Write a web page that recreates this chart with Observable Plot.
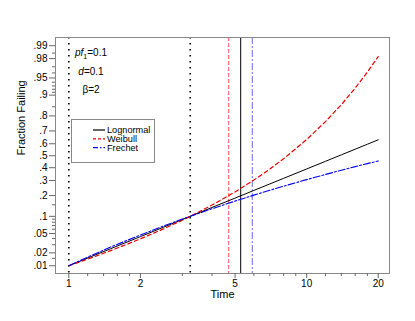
<!DOCTYPE html>
<html>
<head>
<meta charset="utf-8">
<script src="https://cdn.jsdelivr.net/npm/d3@7"></script>
<script src="https://cdn.jsdelivr.net/npm/@observablehq/plot@0.6"></script>
<style>
  body { margin: 0; background: #fff; font-family: "Liberation Sans", Arial, sans-serif; }
  #wrap { position: relative; width: 415px; height: 321px; }
  #wrap > svg { position: absolute; left: 0; top: 0; }
  .ann { position: absolute; font-size: 10px; color: #000; text-align: center; width: 60px; white-space: nowrap; }
</style>
</head>
<body>
<div id="wrap"></div>
<script>
// ---- data ----
const times = [1, 1.25, 1.5, 2, 2.5, 3, 3.24, 4, 5, 6, 7, 8, 10, 12, 14, 16, 18, 20];
const lognormalF = [0.0100, 0.0167, 0.0247, 0.0436, 0.0653, 0.0886, 0.1001, 0.137, 0.1852, 0.2316, 0.2754, 0.3163, 0.3899, 0.4532, 0.5079, 0.555, 0.596, 0.632];
const weibullF   = [0.0100, 0.0156, 0.0224, 0.0394, 0.0609, 0.0865, 0.1001, 0.1485, 0.2222, 0.3036, 0.3889, 0.4744, 0.634, 0.7648, 0.8605, 0.9237, 0.9615, 0.982];
const frechetF   = [0.0100, 0.0177, 0.0267, 0.0469, 0.0686, 0.0902, 0.1003, 0.1313, 0.1688, 0.2024, 0.2325, 0.2598, 0.3068, 0.3461, 0.3796, 0.4087, 0.4339, 0.4563];
const dottedTimes = [1, 3.24];
const quantileTimes = { Weibull: 4.70, Lognormal: 5.28, Frechet: 5.91 };
const xTicks = [1, 2, 5, 10, 20];
const xTickLabels = ["1", "2", "5", "10", "20"];
const xMinorTicks = [1.2, 1.4, 1.6, 1.8, 3, 4, 6, 7, 8, 9, 12, 14, 16, 18];
const yTickValues = [0.01, 0.02, 0.05, 0.1, 0.2, 0.3, 0.4, 0.5, 0.6, 0.7, 0.8, 0.9, 0.95, 0.98, 0.99];
const yTickLabels = [".01", ".02", ".05", ".1", ".2", ".3", ".4", ".5", ".6", ".7", ".8", ".9", ".95", ".98", ".99"];
const yMinorTicks = [0.015, 0.03, 0.04, 0.06, 0.07, 0.08, 0.09, 0.15, 0.85, 0.91, 0.92, 0.93, 0.94, 0.96, 0.97, 0.985];
const seriesNames = ["Lognormal", "Weibull", "Frechet"];
const seriesColors = ["#000000", "#ee0000", "#0000ee"];
const seriesDash = [null, "4,3", "7,2,2,2"];

// inverse standard normal CDF (probability-scale transform)
function probit(p) {
  const a=[-3.969683028665376e+01,2.209460984245205e+02,-2.759285104469687e+02,1.383577518672690e+02,-3.066479806614716e+01,2.506628277459239e+00];
  const b=[-5.447609879822406e+01,1.615858368580409e+02,-1.556989798598866e+02,6.680131188771972e+01,-1.328068155288572e+01];
  const c=[-7.784894002430293e-03,-3.223964580411365e-01,-2.400758277161838e+00,-2.549732539343734e+00,4.374664141464968e+00,2.938163982698783e+00];
  const d=[7.784695709041462e-03,3.224671290700398e-01,2.445134137142996e+00,3.754408661907416e+00];
  const pl = 0.02425, ph = 1 - pl;
  if (p < pl) { const q = Math.sqrt(-2*Math.log(p)); return (((((c[0]*q+c[1])*q+c[2])*q+c[3])*q+c[4])*q+c[5])/((((d[0]*q+d[1])*q+d[2])*q+d[3])*q+1); }
  if (p <= ph) { const q = p - 0.5, r = q*q; return (((((a[0]*r+a[1])*r+a[2])*r+a[3])*r+a[4])*r+a[5])*q/(((((b[0]*r+b[1])*r+b[2])*r+b[3])*r+b[4])*r+1); }
  const q = Math.sqrt(-2*Math.log(1-p)); return -(((((c[0]*q+c[1])*q+c[2])*q+c[3])*q+c[4])*q+c[5])/((((d[0]*q+d[1])*q+d[2])*q+d[3])*q+1);
}

const toRows = (vals) => times.map((t, i) => ({t, z: probit(vals[i])}));
const yMajorZ = yTickValues.map(probit);
const labelByZ = new Map(yMajorZ.map((z, i) => [z, yTickLabels[i]]));
const xLabelRows = xTicks.map((t, i) => ({t, label: xTickLabels[i]}));

const chart = Plot.plot({
  width: 415, height: 321,
  marginLeft: 55, marginRight: 26, marginTop: 37, marginBottom: 48,
  style: { fontFamily: "'Liberation Sans', Arial, sans-serif", fontSize: "10px", background: "transparent" },
  x: { type: "log", domain: [0.879, 22.3] },
  y: { type: "linear", domain: [-2.49, 2.5] },
  marks: [
    Plot.ruleX(dottedTimes, { stroke: "black", strokeWidth: 1.6, strokeDasharray: "1.6,4.4" }),
    Plot.ruleX([quantileTimes.Weibull], { stroke: "#ff3030", strokeWidth: 1.2, strokeDasharray: "4,2", strokeOpacity: 0.7 }),
    Plot.ruleX([quantileTimes.Lognormal], { stroke: "black", strokeWidth: 1 }),
    Plot.ruleX([quantileTimes.Frechet], { stroke: "#3030ff", strokeWidth: 1.2, strokeDasharray: "7,2,2,2", strokeOpacity: 0.6 }),
    Plot.line(toRows(lognormalF), { x: "t", y: "z", stroke: seriesColors[0], strokeWidth: 1 }),
    Plot.line(toRows(weibullF), { x: "t", y: "z", stroke: seriesColors[1], strokeWidth: 1.2, strokeDasharray: seriesDash[1] }),
    Plot.line(toRows(frechetF), { x: "t", y: "z", stroke: seriesColors[2], strokeWidth: 1.1, strokeDasharray: seriesDash[2] }),
    Plot.frame({ stroke: "#888" }),
    Plot.axisX(xTicks, { tickSize: 5, stroke: "#666", tickFormat: () => "", label: null }),
    Plot.axisX(xMinorTicks, { tickSize: 3, stroke: "#666", tickFormat: () => "", label: null }),
    Plot.text(xLabelRows, { x: "t", text: "label", frameAnchor: "bottom", dy: 13, fontSize: 10, fill: "black" }),
    Plot.axisY(yMajorZ, { tickSize: 6, tickPadding: 2, stroke: "#666", fill: "black", tickFormat: z => labelByZ.get(z), label: null }),
    Plot.axisY(yMinorTicks.map(probit), { tickSize: 3, stroke: "#666", tickFormat: () => "", label: null }),
    Plot.text(["Time"], { frameAnchor: "bottom", dy: 24, fontSize: 11 }),
    Plot.text(["Fraction Failing"], { frameAnchor: "left", dx: -34, rotate: -90, fontSize: 11 })
  ]
});

const wrap = document.getElementById("wrap");
wrap.appendChild(chart);

// annotation text
const ann = [
  { html: "<i>pf</i><sub style='font-size:7px'>1</sub>=0.1", top: 47 },
  { html: "<i>d</i>=0.1", top: 66 },
  { html: "β=2", top: 84 }
];
for (const a of ann) {
  const el = document.createElement("div");
  el.className = "ann";
  el.style.left = "61px";
  el.style.top = a.top + "px";
  el.innerHTML = a.html;
  wrap.appendChild(el);
}

// legend (separate small svg layered over the chart)
const lg = d3.select(wrap).append("svg")
  .attr("width", 85).attr("height", 45)
  .style("position", "absolute").style("left", "71px").style("top", "119px");
lg.append("rect").attr("x", 0.5).attr("y", 0.5).attr("width", 83).attr("height", 43)
  .attr("fill", "white").attr("stroke", "#888").attr("stroke-width", 1);
seriesNames.forEach((name, i) => {
  const cy = 11 + i * 8.8;
  lg.append("line").attr("x1", 22).attr("x2", 34).attr("y1", cy).attr("y2", cy)
    .attr("stroke", seriesColors[i]).attr("stroke-width", 1.2)
    .attr("stroke-dasharray", i === 0 ? null : (i === 1 ? "3,2" : "5,2,1.5,2"));
  lg.append("text").attr("x", 36).attr("y", cy + 3.2)
    .attr("font-family", "'Liberation Sans', Arial, sans-serif").attr("font-size", 9.2)
    .attr("fill", "black").text(name);
});
</script>
</body>
</html>
